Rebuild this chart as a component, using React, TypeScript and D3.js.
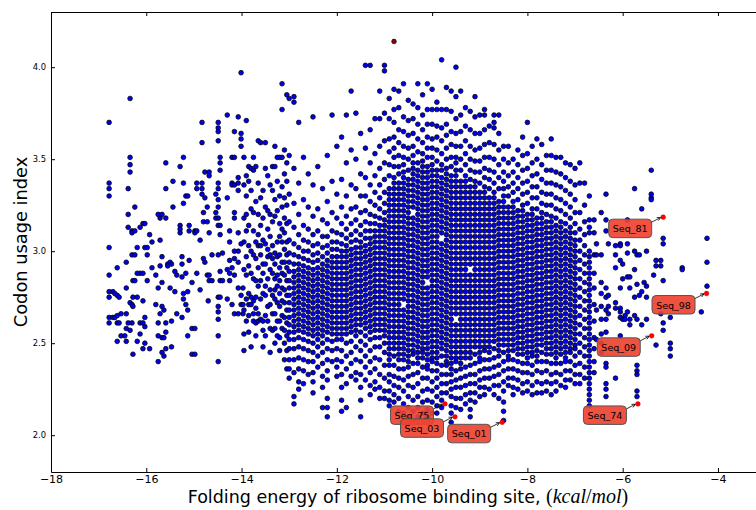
import * as d3 from "d3";
import { useEffect, useRef } from "react";

// x = folding energy (kcal/mol), y values in hundredths of the codon usage index
const leftColumns: string[] = [
  "-16.78:370 337 334 330 302 287 278 275 264 261",
  "-16.70:278 264",
  "-16.66:277 264",
  "-16.61:291 276 265 261 251",
  "-16.57:275 261",
  "-16.53:266 254",
  "-16.45:254",
  "-16.42:294 280 266 258 251",
  "-16.38:334 320 313 261",
  "-16.34:383 351 347 343 272 257",
  "-16.30:311 310 298 271 261",
  "-16.28:284 275 270 244",
  "-16.24:324 311 298 284",
  "-16.19:302 288 275 251",
  "-16.13:313 288 261 255",
  "-16.07:315 288 273 261 247",
  "-16.03:315 302 264 259 250",
  "-15.98:302 298 284",
  "-15.93:309 247",
  "-15.88:305 291",
  "-15.80:287 271",
  "-15.75:320 280 261 254 240",
  "-15.71:318 306 292 266",
  "-15.67:320 297 283 270 253 245",
  "-15.63:268 253 243",
  "-15.59:348 334 318 261 256 247",
  "-15.55:293 292",
  "-15.50:294 280",
  "-15.47:293 262 248",
  "-15.44:338 324",
  "-15.40:278 289",
  "-15.36:287 266",
  "-15.29:346 314 312 310",
  "-15.25:297 293 286 264",
  "-15.22:351 337 326 277 274",
  "-15.17:330 288 271",
  "-15.13:330 278 268 254",
  "-15.10:314 311 295",
  "-15.04:258 244 283",
  "-14.98:311 310 258 244",
  "-14.94:337 334 311 288",
  "-14.87:306 279",
  "-14.83:370 359 337 334 331",
  "-14.80:321 316 296",
  "-14.77:343 329 294",
  "-14.72:324 316 287",
  "-14.70:273",
  "-14.68:343 341 310 287 284",
  "-14.62:298 284",
  "-14.54:331 321 318",
  "-14.49:370 367 365 360 337 334 328 324 318 314 298 275 270 267 263 254 240",
  "-14.45:351 348 344 314 309 289 284 275",
  "-14.40:299 284",
  "-14.30:374 329 290 274",
  "-14.25:311 305 295 288 284",
  "-14.20:351 337 336 291 271",
  "-14.15:365 351 336 321 318 300 296 287 266",
  "-14.07:373 340 337 333 310 300 294 280 266",
  "-14.01:397 364 361 357 304 276 271",
  "-13.97:280 271 266",
];

const midColumns: string[] = [
  "-13.95:351 336 318 305 290 268 255 246",
  "-13.90:371 341 330 320 311 297 287 274 262",
  "-13.85:346 338 314 303 292 277 271 265 256",
  "-13.80:345 333 323 300 288 275 271 248",
  "-13.75:351 344 321 311 298 285 273 266 262",
  "-13.70:346 327 305 296 284 275 269 261 254",
  "-13.65:360 337 320 309 303 291 281 266 262",
  "-13.60:359 329 314 303 298 284 274 263",
  "-13.55:333 318 306 293 288 277 262 257 248",
  "-13.50:359 345 324 304 293 281 276 265 254",
  "-13.45:341 322 312 301 297 285 270 262",
  "-13.40:336 320 308 298 290 279 271 258 245",
  "-13.35:346 333 316 303 296 288 276 266 257",
  "-13.30:357 346 328 319 299 293 285 279 274 266 258 250",
  "-13.25:351 338 322 305 297 287 281 272 262 254",
  "-13.20:351 330 315 308 298 291 284 277 270 262 253 246",
  "-13.15:391 377 351 335 324 312 305 294 288 280 273 265 258",
  "-13.10:355 342 329 318 310 301 294 287 279 272 264 257 250 241",
  "-13.05:385 348 338 325 315 305 298 291 284 276 268 261 254 246 236",
  "-13.0:383 352 331 316 306 299 294 289 284 280 276 272 268 264 260 256 252 247 241 236 231",
  "-12.9:384 381 345 326 313 304 298 293 289 286 283 280 277 274 271 268 265 262 259 256 252 247 241 234 221 217",
  "-12.8:370 337 320 309 302 297 293 290 287 284 281 278 275 272 269 266 263 260 257 253 248 242 236 229 225",
  "-12.7:351 328 314 306 300 296 292 289 286 283 280 277 274 271 268 265 262 259 256 252 247 241 235 228",
  "-12.6:342 324 312 305 300 295 291 288 285 282 279 276 273 270 267 264 261 258 255 251 246 240 233",
  "-12.5:373 336 319 309 303 298 294 290 287 284 281 278 275 272 269 266 263 260 257 254 250 245 240 234 229 223",
  "-12.4:346 323 311 304 299 295 291 288 285 282 279 276 273 270 267 264 261 258 255 252 248 243 237",
  "-12.3:334 317 308 302 297 293 290 287 284 281 278 275 272 269 266 263 260 257 254 250 245 239 232 226 215",
  "-12.2:352 327 315 308 303 299 295 292 289 286 283 280 277 274 271 268 265 262 259 256 252 247 241 235 230 220 215 210",
  "-12.1:374 338 321 311 305 301 297 294 291 288 285 282 279 276 273 270 267 264 261 258 255 251 246 240",
  "-12.0:357 331 318 310 305 301 297 294 291 288 285 282 279 276 273 270 267 264 261 258 255 252 247 241 237 232",
  "-11.9:362 339 324 315 309 304 300 297 294 291 288 285 282 279 276 273 270 267 264 261 258 255 252 246 240 233 226 219 213",
  "-11.8:374 348 330 319 312 307 303 300 297 294 291 288 285 282 279 276 273 270 267 264 261 258 255 250 243 236 228 215",
  "-11.7:387 355 336 323 315 309 305 301 298 295 292 289 286 283 280 277 274 271 268 265 262 259 256 251 245 239 232",
  "-11.6:375 350 334 324 317 311 306 302 299 296 293 290 287 284 281 278 275 272 269 266 263 260 257 254 248 241 234 230",
  "-11.5:364 342 330 321 314 309 305 302 299 296 293 290 287 284 281 278 275 272 269 266 263 260 256 251 246 240 233 226 219 210",
  "-11.4:401 356 340 330 322 316 311 307 303 300 297 294 291 288 285 282 279 276 273 270 267 264 261 258 254 249 243 237 230",
  "-11.3:401 366 348 336 327 320 315 311 307 304 301 298 295 292 289 286 283 280 277 274 271 268 265 262 259 256 252 246 240 234 227 222",
  "-11.2:372 353 341 332 325 319 315 311 308 305 302 299 296 293 290 287 284 281 278 275 272 269 266 263 260 257 253 248 242 236 229 225",
  "-11.1:387 372 357 345 336 329 323 318 314 311 308 305 302 299 296 293 290 287 284 281 278 275 272 269 266 263 260 257 253 248 241 233 226 220",
  "-11.0:401 398 375 360 348 339 332 326 321 317 314 311 308 305 302 299 296 293 290 287 284 281 278 275 272 269 266 263 260 257 254 250 245 238 231 224 220",
];

const coreColumns: string[] = [
  "-10.9:383 372 361 354 347 341 334 331 328 325 322 319 316 313 310 307 304 301 298 295 292 289 286 283 280 277 274 271 268 265 262 259 256 253 250 247 244 241 238 233 229 224 219 216",
  "-10.8:388 377 370 362 356 351 346 340 337 334 331 328 325 322 319 316 313 310 307 304 301 298 295 292 289 286 283 280 277 274 271 268 265 262 259 256 253 250 247 243 238 232 227 222 218",
  "-10.7:387 378 366 359 352 346 342 337 334 331 328 325 322 319 316 313 310 307 304 301 298 295 292 289 286 283 280 277 274 271 268 265 262 259 256 253 250 247 244 241 236 231 226 220 213",
  "-10.6:391 373 365 357 351 347 343 340 337 334 331 328 325 322 319 316 313 310 307 304 301 298 295 292 289 286 283 280 277 274 268 265 262 259 256 253 250 247 244 241 236 230 224 217 212",
  "-10.5:382 371 363 356 350 344 339 336 333 330 327 324 321 318 315 312 309 306 303 300 297 294 291 288 285 282 279 276 273 270 267 264 261 258 255 252 249 246 243 240 237 232 227 221 215 210",
  "-10.4:380 372 364 357 352 348 345 342 339 336 333 330 327 324 318 315 312 309 306 303 300 297 294 291 288 285 282 279 276 273 270 267 264 261 258 255 252 249 246 244 239 233 226 219 213",
  "-10.3:391 378 369 361 354 348 344 341 338 335 332 329 326 323 320 317 314 311 308 305 302 299 296 293 290 287 284 281 278 275 272 269 266 263 260 257 254 251 248 245 242 239 234 228 221 215 210",
  "-10.2:385 374 366 359 353 349 346 343 340 337 334 331 328 325 322 319 316 313 310 307 304 301 298 295 292 289 286 283 280 277 274 271 268 265 262 259 256 253 250 247 245 242 237 231 224 218 212",
  "-10.1:391 377 369 362 356 351 346 343 340 337 334 331 328 325 322 319 316 313 310 307 304 301 298 295 292 289 286 280 277 274 271 268 265 262 259 256 253 250 247 244 241 238 236 231 225 219 214 210",
  "-10.0:388 377 369 361 356 351 347 344 341 338 335 332 329 326 323 320 317 314 311 308 305 302 299 296 293 290 287 284 281 278 275 272 269 266 263 260 257 254 251 248 245 242 240 235 229 224 218 212",
  "-9.9:381 377 368 362 355 349 344 341 338 335 332 329 326 323 320 317 314 311 308 305 302 299 296 293 290 287 284 281 278 275 272 269 266 263 260 257 254 251 248 245 242 239 235 231 226 221 216 212",
  "-9.8:404 377 367 360 353 347 344 340 337 334 331 328 325 322 319 316 313 310 304 301 298 295 292 289 286 283 280 277 274 271 268 265 262 259 256 253 250 247 243 238 233 228 223 219 215",
  "-9.7:389 377 369 363 356 350 345 342 339 336 333 330 327 324 321 318 315 312 309 306 303 300 297 294 291 288 285 282 279 276 273 270 267 264 261 258 255 252 249 246 243 240 238 233 228 223",
  "-9.6:387 376 365 358 351 346 341 338 335 332 329 326 323 320 317 314 311 308 305 302 299 296 293 290 287 284 281 278 275 272 269 266 263 260 257 254 251 248 245 242 239 236 233 229 225 221 216 212 207",
  "-9.5:400 384 372 364 357 351 348 344 341 338 335 332 329 326 323 320 317 314 311 308 305 302 299 296 293 290 287 284 281 278 275 272 269 266 260 257 254 251 248 245 242 240 235 230 226 220 215",
  "-9.4:387 374 365 357 350 344 338 335 332 329 326 323 320 317 314 311 308 305 302 299 296 293 290 287 284 281 278 275 272 269 266 263 260 257 254 251 248 245 242 239 236 231 226 220 214",
  "-9.3:378 368 360 353 347 341 338 335 332 329 326 323 320 317 314 311 308 305 302 299 296 293 290 287 284 281 278 275 272 269 266 263 260 257 254 251 248 245 242 237 232 227 222 217",
  "-9.2:376 366 357 350 344 339 335 332 329 326 323 320 317 314 311 308 305 302 299 296 293 287 284 281 278 275 272 269 266 263 260 257 254 251 248 245 242 238 233 228 223 219 214 210",
  "-9.1:384 373 364 355 349 343 338 335 332 329 326 323 320 317 314 311 308 305 302 299 296 293 290 287 284 281 278 275 272 269 266 263 260 257 254 251 248 244 239 233 228 223 218",
  "-9.0:374 364 356 349 343 337 332 329 326 323 320 317 314 311 308 305 302 299 296 293 290 287 284 281 278 275 272 269 266 263 260 257 254 251 248 245 242 240 235 230 226 221",
  "-8.9:377 374 366 358 351 345 340 335 332 329 326 323 320 317 314 311 308 305 302 299 296 293 290 287 284 281 278 275 272 269 266 263 260 257 254 251 248 246 241 236 231 226 222",
  "-8.8:368 359 351 344 339 334 329 326 323 320 317 314 311 308 305 302 299 296 293 290 287 284 281 278 275 272 269 266 263 260 257 254 251 248 245 241 236 231 225",
  "-8.7:374 370 367 358 350 343 337 332 329 326 323 320 317 314 311 308 305 302 299 296 293 290 287 284 281 278 275 272 269 266 263 260 257 254 251 247 242 237 232 227 222",
  "-8.6:374 364 355 347 340 334 327 324 321 318 315 312 309 306 303 300 297 294 291 288 285 282 279 276 273 270 267 264 261 258 255 252 249 246 243 238 233 227 220",
  "-8.5:357 350 343 338 334 330 327 324 321 318 315 312 309 306 303 300 297 294 291 288 285 282 279 276 273 270 267 264 261 258 255 252 249 245 240 235 229 224 218 213 208",
  "-8.4:357 348 341 335 330 324 321 318 315 312 309 306 303 300 297 294 291 288 285 282 279 276 273 270 267 264 261 258 255 252 249 246 243 241 236 231 227",
  "-8.3:350 343 337 332 327 324 321 318 315 312 309 306 303 300 297 294 291 288 285 282 279 276 273 270 267 264 261 258 255 252 249 246 241 236 231 226 222",
  "-8.2:355 347 340 334 328 322 319 316 313 310 307 304 301 298 295 292 289 286 283 280 277 274 271 268 265 262 259 256 253 250 247 244 240 235 230 225",
  "-8.1:362 352 344 337 331 325 322 319 316 313 310 307 304 301 298 295 292 289 286 283 280 277 274 271 268 265 262 259 256 253 250 247 244 239 234 228 223",
  "-8.0:370 353 345 338 332 326 320 317 314 311 308 305 302 299 296 293 290 287 284 281 278 275 272 269 266 263 260 257 254 251 248 245 242 239 234 229 224",
  "-7.9:357 348 341 335 329 323 320 317 314 311 308 305 302 299 296 293 290 287 284 281 278 275 272 269 266 263 260 257 254 251 248 245 243 238 233 227 222",
  "-7.8:361 350 342 335 329 323 318 315 312 309 306 303 300 297 294 291 288 285 282 279 276 273 270 267 264 261 258 255 252 249 246 243 240 235 229 223",
  "-7.7:358 347 339 332 326 321 318 315 312 309 306 303 300 297 294 291 288 285 282 279 276 273 270 267 264 261 258 255 252 249 245 240 234 228 223",
  "-7.6:352 344 337 331 325 320 316 313 310 307 304 301 298 295 292 289 286 283 280 277 274 271 268 265 262 259 256 253 250 247 244 240 235 229 224",
  "-7.5:361 352 344 337 331 325 319 316 313 310 307 304 301 298 295 292 289 286 283 280 277 274 271 268 265 262 259 256 253 250 247 244 239 233 228 222",
  "-7.4:351 343 336 329 323 318 314 311 308 305 302 299 296 293 290 287 284 281 278 275 272 269 266 263 260 257 254 251 248 245 242 239 234 229 224",
  "-7.3:351 342 335 328 322 316 313 310 307 304 301 298 295 292 289 286 283 280 277 274 271 268 265 262 259 256 253 250 247 244 239 233 227",
  "-7.2:348 340 333 326 320 315 311 308 305 302 299 296 293 290 287 284 281 278 275 272 269 266 263 260 257 254 251 248 245 242 240 235 230 226",
  "-7.1:347 338 331 324 318 313 310 307 304 301 298 295 292 289 286 283 280 277 274 271 268 265 262 259 256 253 250 247 245 240 235 230",
  "-7.0:345 336 328 321 315 310 306 303 300 297 294 291 288 285 282 279 276 273 270 267 264 261 258 255 252 249 247 243 238 233 228",
  "-6.9:348 337 321 312 306 300 295 290 285 280 275 270 265 260 255 250 245 239 233 228",
  "-6.8:337 325 316 309 303 298 293 288 283 278 273 268 263 258 253 248 243 237 231",
  "-6.7:330 317 313 310 300 297 294 291 288 285 282 279 276 273 270 267 264 261 258 255 252 249 246 243 240 237 234 231 228 225 222 219 216",
  "-6.6:317 310 298 288 280 271 262 253 247 240 234",
];

const rightColumns: string[] = [
  "-6.55:304 298 268 252",
  "-6.45:321 298 283 277 270 263 255 250 245",
  "-6.35:331 317 311 280 275 268 263 256 239 237 228 225 221",
  "-6.30:304 276 270 266",
  "-6.15:303 298 291 272 269 231",
  "-6.05:304 303 295 280 269 267 264 254",
  "-6.00:293 285 263",
  "-5.95:265 263",
  "-5.90:317 304 299 286 267",
  "-5.85:286 280 263 260",
  "-5.75:334 300 290 275 265",
  "-5.70:298 282 263 238 235 233 224 221",
  "-5.65:298 276",
  "-5.60:323 278 260",
  "-5.55:283",
  "-5.50:300 281 275 263",
  "-5.40:344 331 329 328",
  "-5.35:287",
  "-5.30:295 292 249",
  "-5.20:295 292 266",
  "-5.15:307 304 284 261 257",
  "-5.00:264 250 247 243",
  "-4.75:291 290",
  "-4.35:267",
  "-4.23:307 294 281",
];

const highlighted = [
  { label: "Seq_81", x: -5.15, y: 3.185 },
  { label: "Seq_98", x: -4.24, y: 2.77 },
  { label: "Seq_09", x: -5.39, y: 2.54 },
  { label: "Seq_74", x: -5.68, y: 2.17 },
  { label: "Seq_01", x: -8.53, y: 2.07 },
  { label: "Seq_75", x: -9.73, y: 2.17 },
  { label: "Seq_03", x: -9.52, y: 2.1 },
];
const topPoint = { x: -10.8, y: 4.14 };

const xTicks = [-18, -16, -14, -12, -10, -8, -6, -4];
const yTicks = [2.0, 2.5, 3.0, 3.5, 4.0];

function parseColumns(cols: string[]) {
  return cols.flatMap((c) => {
    const [xs, ys] = c.split(":");
    return ys
      .trim()
      .split(/\s+/)
      .map((v) => ({ x: +xs, y: +v / 100 }));
  });
}

const points = [
  ...parseColumns(leftColumns),
  ...parseColumns(midColumns),
  ...parseColumns(coreColumns),
  ...parseColumns(rightColumns),
];

export default function App() {
  const svgRef = useRef<SVGSVGElement>(null);
  const w = 756;
  const h = 510;

  useEffect(() => {
    const svg = d3.select(svgRef.current);
    const x = d3.scaleLinear().domain([-18, -3]).range([51, 765.6]);
    const y = d3.scaleLinear().domain([1.8, 4.3]).range([472, 12]);

    svg
      .select(".points")
      .selectAll("circle")
      .data(points)
      .join("circle")
      .attr("cx", (d) => x(d.x))
      .attr("cy", (d) => y(d.y))
      .attr("r", 2.35)
      .attr("fill", "#0000ee")
      .attr("stroke", "#000")
      .attr("stroke-width", 0.75);

    svg
      .select(".top-point")
      .selectAll("circle")
      .data([topPoint])
      .join("circle")
      .attr("cx", (d) => x(d.x))
      .attr("cy", (d) => y(d.y))
      .attr("r", 2.35)
      .attr("fill", "#8b0000")
      .attr("stroke", "#000")
      .attr("stroke-width", 0.6);

    // axes, ticks pointing inward
    const xAxis = d3.axisBottom(x).tickValues(xTicks).tickFormat(d3.format("d")).tickSize(-4).tickSizeOuter(0).tickPadding(3);
    svg.select(".x-axis").attr("transform", "translate(0,472)").call(xAxis as any);
    const xTop = d3.axisTop(x).tickValues(xTicks).tickSize(-4).tickSizeOuter(0);
    svg.select(".x-top").attr("transform", "translate(0,12)").call(xTop as any);
    svg.select(".x-top").selectAll("text").remove();
    const yAxis = d3.axisLeft(y).tickValues(yTicks).tickFormat(d3.format(".1f")).tickSize(-4).tickSizeOuter(0).tickPadding(5);
    svg.select(".y-axis").attr("transform", "translate(51,0)").call(yAxis as any);

    svg.selectAll(".axis").attr("font-family", "DejaVu Sans");
    svg.select(".x-axis").selectAll("text").attr("font-size", 11).attr("fill", "#000");
    svg.select(".y-axis").selectAll("text").attr("font-size", 8.4).attr("fill", "#000");
    svg.selectAll(".axis .domain").attr("stroke", "#000").attr("stroke-width", 1);
    svg.selectAll(".axis .tick line").attr("stroke", "#000").attr("stroke-width", 1);

    // annotations
    const ann = svg.select(".annotations");
    ann.selectAll("*").remove();
    highlighted.forEach((p) => {
      const px = x(p.x);
      const py = y(p.y);
      const bx = px - 11.5 - 43;
      const by = py + 2;
      const g = ann.append("g");
      g.append("rect")
        .attr("x", bx)
        .attr("y", by)
        .attr("width", 43)
        .attr("height", 18.5)
        .attr("rx", 4)
        .attr("fill", "#ee4330")
        .attr("fill-opacity", 0.92)
        .attr("stroke", "#555")
        .attr("stroke-width", 1);
      g.append("text")
        .attr("x", bx + 21.5)
        .attr("y", by + 9.5)
        .attr("text-anchor", "middle")
        .attr("dominant-baseline", "central")
        .attr("font-family", "DejaVu Sans")
        .attr("font-size", 9.5)
        .attr("fill", "#000")
        .text(p.label);
      const x0 = bx + 43;
      const y0 = by + 3;
      const x1 = px - 2.5;
      const y1 = py + 0.3;
      const ang = Math.atan2(y1 - y0, x1 - x0);
      g.append("line").attr("x1", x0).attr("y1", y0).attr("x2", x1).attr("y2", y1).attr("stroke", "#000").attr("stroke-width", 0.8);
      [0.45, -0.45].forEach((da) => {
        g.append("line")
          .attr("x1", x1)
          .attr("y1", y1)
          .attr("x2", x1 - 4 * Math.cos(ang + da))
          .attr("y2", y1 - 4 * Math.sin(ang + da))
          .attr("stroke", "#000")
          .attr("stroke-width", 0.8);
      });
    });
    ann
      .selectAll("circle.hl")
      .data(highlighted)
      .join("circle")
      .attr("class", "hl")
      .attr("cx", (d) => x(d.x))
      .attr("cy", (d) => y(d.y))
      .attr("r", 2.4)
      .attr("fill", "#ff0000")
      .attr("stroke", "#cc0000")
      .attr("stroke-width", 0.4);
  }, []);

  return (
    <svg ref={svgRef} width={w} height={h} style={{ position: "absolute", left: 0, top: 0, background: "#fff" }}>
      <rect width={w} height={h} fill="#fff" />
      <g className="points" />
      <g className="top-point" />
      <g className="annotations" />
      <g className="axis x-axis" />
      <g className="axis x-top" />
      <g className="axis y-axis" />
      <text
        transform="translate(27,242) rotate(-90)"
        textAnchor="middle"
        fontFamily="DejaVu Sans"
        fontSize={17.8}
        fill="#000"
      >
        Codon usage index
      </text>
      <text x={408} y={503} textAnchor="middle" fontFamily="DejaVu Sans" fontSize={17.5} fill="#000">
        Folding energy of ribosome binding site,{" "}
        <tspan fontFamily="Liberation Serif" fontSize={20}>
          (<tspan fontStyle="italic">kcal</tspan>/<tspan fontStyle="italic">mol</tspan>)
        </tspan>
      </text>
    </svg>
  );
}
